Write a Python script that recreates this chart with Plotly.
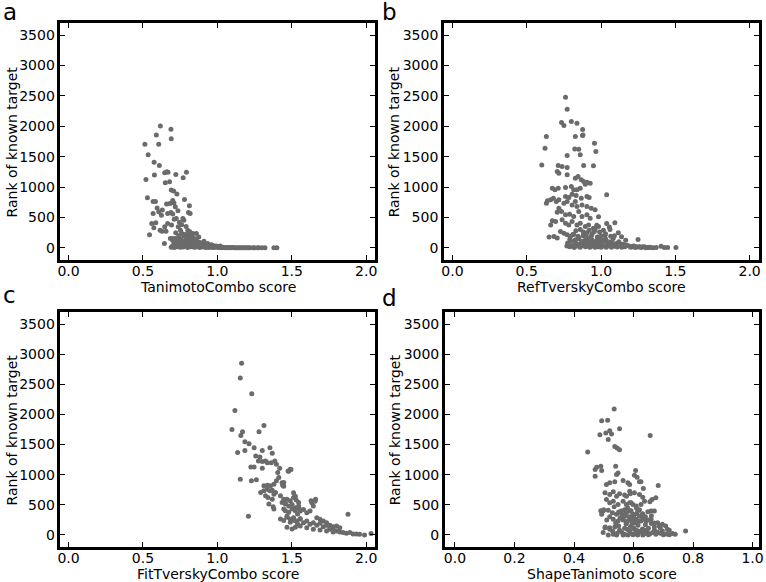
import plotly.graph_objects as go

# Scores vs rank of the known target, one list of (score, rank) pairs per panel
tanimoto_combo = [
    (0.513, 1703), (0.617, 2005), (0.688, 1950), (0.69, 1797), (0.59, 1857), (0.606, 1703),
    (0.535, 1533), (0.575, 1407), (0.61, 1357), (0.52, 1126), (0.577, 1198), (0.646, 1236),
    (0.661, 1253), (0.668, 1242), (0.721, 1209), (0.792, 1242), (0.77, 1154), (0.65, 1071),
    (0.679, 1088), (0.69, 950), (0.706, 934), (0.728, 885), (0.53, 824), (0.568, 764),
    (0.584, 764), (0.779, 797), (0.812, 692), (0.70, 780), (0.708, 736), (0.717, 676),
    (0.659, 720), (0.681, 731), (0.63, 621), (0.595, 654), (0.606, 593), (0.568, 566),
    (0.735, 610), (0.806, 582), (0.817, 566), (0.666, 566), (0.688, 582), (0.70, 555),
    (0.768, 484), (0.775, 456), (0.624, 538), (0.559, 401), (0.586, 412), (0.573, 330),
    (0.646, 346), (0.666, 401), (0.692, 374), (0.724, 484), (0.615, 291), (0.628, 275),
    (0.655, 275), (0.544, 214), (0.737, 346), (0.752, 291), (0.801, 291), (0.815, 264),
    (0.835, 236), (0.859, 236), (0.684, 154), (0.70, 154), (0.717, 154), (0.735, 137),
    (0.757, 126), (0.781, 220), (0.792, 181), (0.808, 154), (0.824, 137), (0.644, 71),
    (0.745, 420), (0.71, 470), (0.76, 380), (0.72, 250), (0.79, 350), (0.80, 200),
    (0.83, 170), (0.76, 240), (0.785, 120), (0.74, 200),
    (0.69, 10), (0.70, 40), (0.71, 5), (0.72, 60), (0.73, 20), (0.74, 90), (0.75, 10),
    (0.76, 50), (0.77, 15), (0.78, 80), (0.79, 30), (0.80, 5), (0.81, 60), (0.82, 20),
    (0.83, 100), (0.84, 40), (0.85, 10), (0.86, 70), (0.87, 25), (0.88, 5), (0.89, 50),
    (0.90, 15), (0.91, 35), (0.92, 5), (0.93, 20), (0.94, 45), (0.95, 10), (0.96, 25),
    (0.97, 5), (0.98, 15), (0.99, 30), (1.00, 8), (0.75, 110), (0.80, 100), (0.86, 120),
    (0.88, 90), (0.82, 75), (0.78, 45), (0.72, 25), (0.74, 35), (0.84, 15), (0.90, 60),
    (0.92, 40), (0.94, 5), (0.96, 50), (0.97, 40), (1.00, 25), (1.02, 30),
    (0.70, 120), (0.705, 30), (0.715, 90), (0.725, 140), (0.73, 70), (0.745, 60),
    (0.755, 150), (0.765, 20), (0.77, 100), (0.775, 200), (0.785, 60), (0.795, 140),
    (0.80, 40), (0.805, 250), (0.815, 90), (0.825, 50), (0.83, 200), (0.845, 70),
    (0.85, 150), (0.855, 30), (0.865, 100), (0.87, 60), (0.875, 180), (0.885, 20),
    (0.895, 80), (0.905, 40), (0.91, 110), (0.925, 30), (0.935, 70), (0.945, 20),
    (0.955, 40), (0.965, 15), (0.975, 25), (0.985, 10), (0.995, 20),
    (1.01, 5), (1.02, 12), (1.03, 3), (1.04, 8), (1.05, 2), (1.06, 6), (1.07, 1),
    (1.08, 4), (1.09, 2), (1.10, 5), (1.11, 1), (1.12, 3), (1.13, 1), (1.14, 2),
    (1.15, 1), (1.16, 3), (1.17, 1), (1.18, 2), (1.19, 1), (1.20, 1), (1.21, 2),
    (1.22, 1), (1.24, 1), (1.25, 1), (1.27, 1), (1.28, 1), (1.30, 1), (1.32, 1),
    (1.38, 1), (1.40, 1),
]

ref_tversky_combo = [
    (0.761, 2478), (0.772, 2282), (0.734, 2063), (0.750, 2013), (0.80, 2079), (0.838, 2051),
    (0.876, 1948), (0.876, 1849), (0.632, 1832), (0.827, 1832), (0.878, 1859), (0.623, 1640),
    (0.956, 1722), (0.965, 1586), (0.823, 1628), (0.85, 1623), (0.772, 1520), (0.86, 1530),
    (0.601, 1365), (0.712, 1355), (0.738, 1339), (0.772, 1323), (0.883, 1355), (0.949, 1349),
    (0.705, 1257), (0.716, 1229), (0.772, 1201), (0.827, 1147), (0.845, 1175), (0.867, 1119),
    (0.883, 1092), (0.905, 1081), (0.927, 1064), (0.894, 1048), (0.838, 954), (0.86, 982),
    (0.761, 994), (0.80, 1010), (0.816, 954), (0.672, 982), (0.69, 954), (0.712, 982),
    (1.038, 872), (0.805, 883), (0.832, 862), (0.867, 818), (0.905, 845), (0.92, 829),
    (0.761, 845), (0.783, 829), (0.639, 773), (0.661, 790), (0.632, 735), (0.679, 818),
    (0.699, 763), (0.716, 790), (0.75, 735), (0.772, 763), (0.805, 707), (0.827, 763),
    (0.838, 681), (0.872, 707), (0.905, 681), (0.934, 653), (0.96, 625), (0.716, 653),
    (0.734, 599), (0.705, 587), (0.761, 543), (0.788, 554), (0.816, 517), (0.85, 599),
    (0.872, 517), (0.905, 543), (0.927, 489), (0.672, 444), (0.694, 434), (0.661, 378),
    (0.738, 461), (0.761, 406), (0.783, 378), (0.805, 434), (0.838, 378), (0.86, 406),
    (0.894, 352), (0.916, 378), (0.949, 324), (0.983, 352), (0.65, 180), (0.683, 188),
    (0.705, 160), (0.727, 270), (0.75, 242), (0.772, 214), (0.794, 188), (0.816, 225),
    (0.827, 132), (0.85, 160), (0.872, 105), (0.983, 510), (0.971, 373), (1.038, 401),
    (1.056, 345), (1.093, 411), (1.016, 291), (1.027, 209), (1.116, 247), (1.138, 181),
    (1.065, 192), (1.082, 155), (1.166, 127), (1.249, 138),
    (0.983, 155), (1.005, 127), (1.038, 99), (1.071, 99), (1.104, 72), (1.138, 61),
    (1.171, 44), (1.193, 28), (1.216, 28), (1.238, 16), (1.26, 16), (1.293, 16),
    (1.315, 6), (1.326, 6), (1.371, 6), (1.404, 28), (1.426, 6), (1.448, 6), (1.504, 6),
    (0.78, 60), (0.79, 20), (0.80, 110), (0.81, 40), (0.82, 5), (0.83, 80), (0.84, 30),
    (0.85, 150), (0.855, 60), (0.86, 10), (0.87, 90), (0.875, 40), (0.88, 200), (0.89, 120),
    (0.895, 20), (0.90, 70), (0.905, 250), (0.91, 30), (0.915, 160), (0.92, 100),
    (0.925, 10), (0.93, 50), (0.935, 200), (0.94, 130), (0.945, 30), (0.95, 80),
    (0.955, 270), (0.96, 10), (0.965, 110), (0.97, 50), (0.975, 180), (0.98, 20),
    (0.985, 90), (0.99, 40), (0.995, 140), (1.00, 10), (1.005, 60), (1.01, 100),
    (1.02, 30), (1.03, 150), (1.035, 10), (1.045, 60), (1.05, 100), (1.06, 30),
    (1.07, 10), (1.08, 70), (1.09, 25), (1.10, 50), (1.11, 15), (1.12, 100), (1.13, 40),
    (1.14, 10), (1.15, 60), (1.16, 20), (1.18, 40), (1.20, 10), (1.22, 30), (1.23, 5),
    (1.25, 15), (1.27, 5), (1.28, 20), (1.30, 3), (1.33, 8), (1.35, 2), (0.77, 30),
    (0.775, 80), (0.79, 140), (0.81, 220), (0.83, 280), (0.845, 190), (0.86, 300),
    (0.88, 260), (0.90, 180), (0.92, 290), (0.94, 230), (0.96, 300), (0.99, 260),
    (1.00, 200), (1.03, 230), (1.06, 300), (1.09, 200),
]

fit_tversky_combo = [
    (1.163, 2851), (1.154, 2604), (1.231, 2345), (1.118, 2064), (1.313, 1816), (1.098, 1750),
    (1.28, 1712), (1.169, 1712), (1.158, 1651), (1.185, 1547), (1.213, 1514), (1.247, 1448),
    (1.353, 1448), (1.369, 1354), (1.136, 1370), (1.185, 1403), (1.302, 1403), (1.258, 1311),
    (1.286, 1294), (1.276, 1228), (1.302, 1217), (1.324, 1228), (1.336, 1200), (1.362, 1200),
    (1.386, 1228), (1.397, 1172), (1.225, 1129), (1.247, 1129), (1.302, 1106), (1.419, 1106),
    (1.406, 1035), (1.49, 1090), (1.475, 1063), (1.154, 925), (1.229, 898), (1.262, 915),
    (1.413, 953), (1.397, 898), (1.38, 842), (1.446, 870), (1.439, 826), (1.313, 815),
    (1.336, 826), (1.357, 815), (1.291, 705), (1.313, 733), (1.336, 760), (1.353, 733),
    (1.369, 743), (1.391, 705), (1.38, 677), (1.324, 650), (1.34, 622), (1.369, 594),
    (1.424, 650), (1.446, 594), (1.346, 512), (1.375, 469), (1.38, 429), (1.435, 540),
    (1.457, 512), (1.446, 429), (1.209, 309), (1.468, 594), (1.49, 568), (1.512, 622),
    (1.53, 578), (1.546, 540), (1.457, 403), (1.479, 375), (1.502, 429), (1.524, 403),
    (1.539, 347), (1.552, 429), (1.424, 264), (1.446, 238), (1.468, 292), (1.49, 210),
    (1.517, 238), (1.539, 182), (1.557, 264), (1.468, 127), (1.502, 99), (1.524, 127),
    (1.479, 1057), (1.495, 1085), (1.435, 865), (1.446, 809), (1.512, 700), (1.524, 644),
    (1.635, 535), (1.657, 561), (1.645, 479), (1.878, 342), (1.457, 535), (1.479, 479),
    (1.502, 507), (1.524, 452), (1.546, 479), (1.557, 396), (1.579, 424), (1.601, 370),
    (1.623, 396), (1.468, 314), (1.49, 259), (1.512, 287), (1.535, 231), (1.557, 270),
    (1.579, 204), (1.601, 231), (1.623, 176), (1.645, 204), (1.668, 160), (1.69, 193),
    (1.712, 138), (1.734, 160), (1.756, 121), (1.778, 105), (1.668, 287), (1.69, 259),
    (1.712, 231), (1.734, 204), (1.756, 160), (1.778, 138), (1.801, 66), (1.823, 50),
    (1.845, 40), (1.867, 28), (1.89, 40), (1.912, 17), (1.934, 17), (1.956, 12),
    (1.989, 0), (2.033, 23), (1.557, 149), (1.601, 121), (1.645, 94), (1.69, 83),
    (1.734, 66), (1.756, 94), (1.778, 50), (1.801, 149), (1.823, 121), (1.63, 566),
    (1.66, 594),
]

shape_tanimoto = [
    (0.535, 2092), (0.493, 1894), (0.513, 1905), (0.487, 1663), (0.507, 1690), (0.52, 1729),
    (0.526, 1674), (0.553, 1762), (0.515, 1585), (0.537, 1469), (0.545, 1443), (0.553, 1415),
    (0.446, 1377), (0.471, 1085), (0.476, 1123), (0.49, 1139), (0.493, 1068), (0.54, 1139),
    (0.607, 1068), (0.471, 974), (0.543, 1002), (0.548, 1030), (0.565, 903), (0.537, 882),
    (0.52, 865), (0.509, 837), (0.603, 991), (0.62, 882), (0.587, 837), (0.504, 700),
    (0.52, 672), (0.532, 716), (0.543, 644), (0.553, 683), (0.57, 661), (0.587, 726),
    (0.603, 700), (0.62, 672), (0.631, 627), (0.509, 589), (0.52, 535), (0.532, 561),
    (0.548, 507), (0.565, 561), (0.576, 507), (0.592, 535), (0.609, 479), (0.625, 507),
    (0.637, 561), (0.498, 396), (0.515, 408), (0.493, 342), (0.529, 370), (0.543, 342),
    (0.559, 396), (0.576, 370), (0.587, 396), (0.598, 342), (0.614, 396), (0.631, 342),
    (0.532, 259), (0.548, 231), (0.565, 259), (0.576, 204), (0.592, 259), (0.603, 204),
    (0.62, 231), (0.637, 259), (0.504, 121), (0.52, 94), (0.537, 132), (0.553, 77),
    (0.57, 110), (0.587, 66), (0.603, 94), (0.62, 55), (0.637, 77), (0.498, 40),
    (0.515, 0), (0.532, 10), (0.543, 0), (0.565, 0), (0.581, 0), (0.598, 5), (0.614, 0),
    (0.631, 0), (0.656, 1651), (0.612, 958), (0.625, 882), (0.581, 865), (0.633, 771),
    (0.683, 821), (0.589, 683), (0.576, 644), (0.675, 617), (0.662, 589), (0.655, 551),
    (0.587, 535), (0.598, 507), (0.609, 452), (0.592, 396), (0.648, 386), (0.659, 396),
    (0.67, 396), (0.62, 314), (0.631, 287), (0.609, 259), (0.659, 259), (0.642, 231),
    (0.681, 204), (0.697, 176), (0.686, 149), (0.67, 132), (0.708, 149), (0.714, 94),
    (0.697, 66), (0.731, 23), (0.72, 77), (0.775, 66), (0.74, 10),
    (0.55, 150), (0.56, 50), (0.565, 250), (0.57, 10), (0.575, 180), (0.58, 90),
    (0.585, 300), (0.59, 30), (0.595, 200), (0.60, 120), (0.605, 20), (0.61, 350),
    (0.615, 160), (0.62, 60), (0.625, 230), (0.63, 100), (0.635, 15), (0.64, 170),
    (0.645, 60), (0.65, 110), (0.655, 20), (0.66, 190), (0.665, 40), (0.67, 80),
    (0.675, 10), (0.68, 50), (0.69, 30), (0.70, 5), (0.71, 15), (0.72, 5), (0.53, 60),
    (0.54, 200), (0.545, 30), (0.555, 280), (0.56, 350), (0.57, 420), (0.58, 450),
    (0.59, 400), (0.60, 300), (0.60, 250), (0.61, 220), (0.62, 420), (0.63, 350),
    (0.64, 300), (0.65, 250), (0.66, 320), (0.58, 230), (0.57, 310), (0.59, 140),
    (0.61, 80), (0.63, 40), (0.65, 5), (0.67, 200), (0.69, 120), (0.52, 300), (0.51, 250),
    (0.505, 130), (0.52, 120), (0.49, 400), (0.50, 420), (0.535, 470), (0.55, 380),
]

panel_letters = ["a", "b", "c", "d"]
x_titles = ["TanimotoCombo score", "RefTverskyCombo score",
            "FitTverskyCombo score", "ShapeTanimoto score"]
y_title = "Rank of known target"
rank_ticks = [0, 500, 1000, 1500, 2000, 2500, 3000, 3500]
combo_ticks = [0.0, 0.5, 1.0, 1.5, 2.0]
shape_ticks = [0.0, 0.2, 0.4, 0.6, 0.8, 1.0]

W, H = 766, 582
FONT = "DejaVu Sans"
DOT = "#6b6b6b"

# Pixel boxes of each panel: left, right, top, bottom
boxes = [(58, 376, 23, 260), (445.5, 763.5, 23, 260),
         (58, 376, 312, 547), (446.5, 763.5, 312, 547)]
xranges = [[-0.055, 2.06], [-0.058, 2.06], [-0.055, 2.06], [-0.034, 1.02]]
xticks = [combo_ticks, combo_ticks, combo_ticks, shape_ticks]
datasets = [tanimoto_combo, ref_tversky_combo, fit_tversky_combo, shape_tanimoto]
# where the titles and panel letters sit, in pixels
ytitle_x = [9, 395, 9, 396]
xtitle_y = [287, 287, 574, 574]
letter_pos = [(-2, 11.5), (381, 12), (-2, 294.5), (381, 298)]


def px_x(v):
    return v / W


def px_y(v):
    return 1 - v / H


fig = go.Figure()
layout = {}
annotations = []
title_font = dict(family=FONT, size=14, color="black")
for i, (pts, box) in enumerate(zip(datasets, boxes)):
    n = "" if i == 0 else str(i + 1)
    score = [p[0] for p in pts]
    rank = [p[1] for p in pts]
    fig.add_trace(go.Scatter(
        x=score, y=rank, mode="markers",
        marker=dict(size=5, color=DOT, line=dict(width=0)),
        xaxis="x" + n, yaxis="y" + n, showlegend=False,
    ))
    l, r, t, b = box
    axis_common = dict(
        showline=True, linewidth=2.5, linecolor="black", mirror="ticks",
        ticks="inside", ticklen=5, tickwidth=1.3, tickcolor="black",
        showgrid=False, zeroline=False, ticklabeloverflow="allow",
        tickfont=dict(family=FONT, size=14, color="black"),
    )
    layout["xaxis" + n] = dict(
        axis_common, domain=[px_x(l), px_x(r)], anchor="y" + n,
        range=xranges[i], tickvals=xticks[i], tickformat=".1f",
        ticklabelstandoff=-4,
    )
    layout["yaxis" + n] = dict(
        axis_common, domain=[px_y(b), px_y(t)], anchor="x" + n,
        range=[-200, 3700], tickvals=rank_ticks, tickformat="d",
    )
    # axis titles
    annotations.append(dict(
        text=x_titles[i], x=px_x((l + r) / 2), y=px_y(xtitle_y[i]),
        xref="paper", yref="paper", xanchor="center", yanchor="middle",
        showarrow=False, font=title_font,
    ))
    annotations.append(dict(
        text=y_title, x=px_x(ytitle_x[i]), y=px_y((t + b) / 2),
        xref="paper", yref="paper", xanchor="center", yanchor="middle",
        textangle=-90, showarrow=False, font=title_font,
    ))

for letter, (px, py) in zip(panel_letters, letter_pos):
    annotations.append(dict(
        text=letter, x=px_x(px), y=px_y(py), xref="paper", yref="paper",
        xanchor="left", yanchor="middle", showarrow=False,
        font=dict(family=FONT, size=23, color="black"),
    ))

fig.update_layout(
    width=W, height=H,
    margin=dict(l=0, r=0, t=0, b=0),
    paper_bgcolor="white", plot_bgcolor="white",
    annotations=annotations,
    **layout,
)

# drop the default body margin so the figure starts at the window corner
fig.write_html("out.html", config={"displayModeBar": False},
               post_script="document.body.style.margin = '0';")
